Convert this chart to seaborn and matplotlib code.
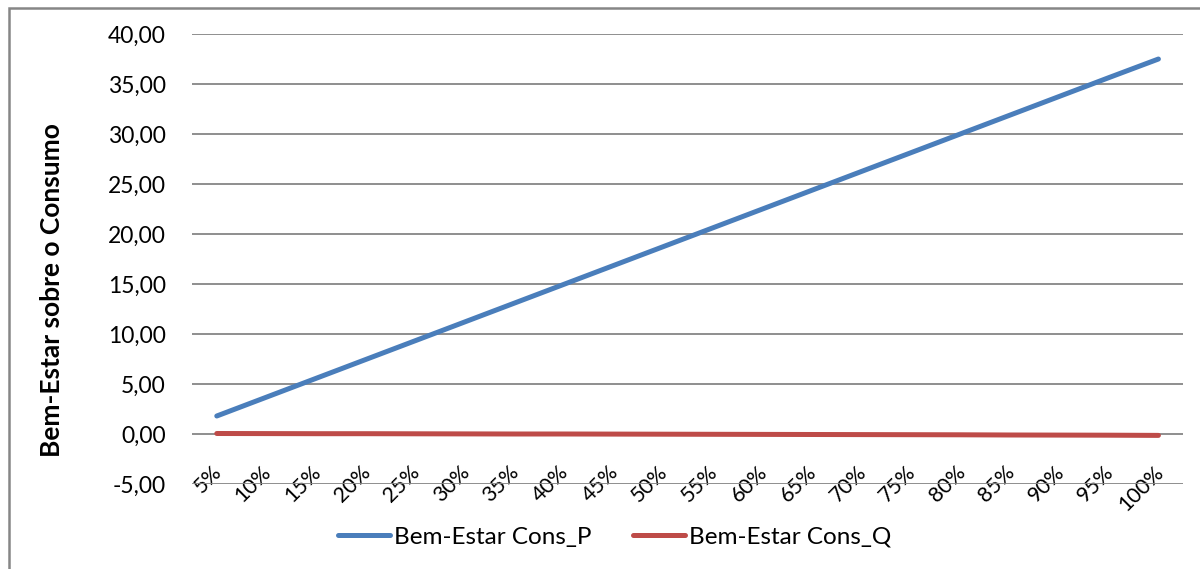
import matplotlib
matplotlib.use("Agg")
import matplotlib.pyplot as plt
import matplotlib.transforms as mtransforms
from matplotlib.patches import Rectangle
import seaborn as sns
import pandas as pd

categories = ["5%", "10%", "15%", "20%", "25%", "30%", "35%", "40%", "45%", "50%",
              "55%", "60%", "65%", "70%", "75%", "80%", "85%", "90%", "95%", "100%"]
cons_p = [1.80, 3.68, 5.56, 7.44, 9.32, 11.20, 13.08, 14.96, 16.84, 18.72,
          20.60, 22.48, 24.36, 26.24, 28.12, 30.00, 31.88, 33.76, 35.64, 37.50]
cons_q = [0.05, 0.04, 0.03, 0.03, 0.02, 0.01, 0.00, 0.00, -0.01, -0.02,
          -0.03, -0.04, -0.05, -0.06, -0.07, -0.08, -0.10, -0.11, -0.12, -0.14]
series_names = ["Bem-Estar Cons_P", "Bem-Estar Cons_Q"]
y_ticks = [-5, 0, 5, 10, 15, 20, 25, 30, 35, 40]

df = pd.DataFrame({
    "pos": list(range(len(categories))) * 2,
    "valor": cons_p + cons_q,
    "serie": [series_names[0]] * len(categories) + [series_names[1]] * len(categories),
})

sns.set_theme(style="white")
plt.rcParams["font.family"] = ["Lato", "DejaVu Sans"]
plt.rcParams["text.color"] = "black"
plt.rcParams["xtick.color"] = "black"
plt.rcParams["ytick.color"] = "black"
plt.rcParams["axes.labelcolor"] = "black"

fig = plt.figure(figsize=(12, 5.69), dpi=100)
ax = fig.add_axes([0.16, 0.1494, 0.826, 0.7908])

grid_c = "#868686"
for yv in y_ticks:
    ax.axhline(yv, color=grid_c, lw=1.3, zorder=1)

sns.lineplot(data=df, x="pos", y="valor", hue="serie",
             palette=["#4A7EBB", "#BE4B48"], linewidth=3.6, ax=ax,
             legend=True, zorder=3)
for ln in ax.get_lines():
    ln.set_solid_capstyle("round")

ax.set_xlim(-0.5, len(categories) - 0.5)
ax.set_ylim(-5, 40)
ax.set_yticks(y_ticks)
ax.set_yticklabels([f"{v:.2f}".replace(".", ",") for v in y_ticks], fontsize=16.5)
ax.set_xticks(range(len(categories)))
ax.set_xticklabels(categories, fontsize=15.5, rotation=45, ha="right",
                   va="center", rotation_mode="anchor")
ax.tick_params(axis="both", length=0)
ax.tick_params(axis="y", pad=18.7)
ax.tick_params(axis="x", pad=0)
offset = mtransforms.ScaledTranslation(2 / 100, 15 / 100, fig.dpi_scale_trans)
for lab in ax.get_xticklabels():
    lab.set_transform(lab.get_transform() + offset)
for s in ax.spines.values():
    s.set_visible(False)
ax.set_xlabel("")
ax.set_ylabel("Bem-Estar sobre o Consumo", fontsize=19, fontweight="bold", va="center")
ax.yaxis.set_label_coords(-0.141, 0.431)

handles, labels = ax.get_legend_handles_labels()
for h in handles:
    h.set_linewidth(3.6)
ax.legend(handles, labels, loc="center", bbox_to_anchor=(0.512, 0.056),
          bbox_transform=fig.transFigure, ncol=2, frameon=False, fontsize=17.5,
          handlelength=2.15, handletextpad=0.16, columnspacing=1.7)

fig.patches.append(Rectangle((9 / 1200, -0.1), 1.2, 1 - 8 / 569 + 0.1,
                             transform=fig.transFigure, fill=False,
                             edgecolor=grid_c, linewidth=1.8))

fig.savefig("out.png", dpi=100)
